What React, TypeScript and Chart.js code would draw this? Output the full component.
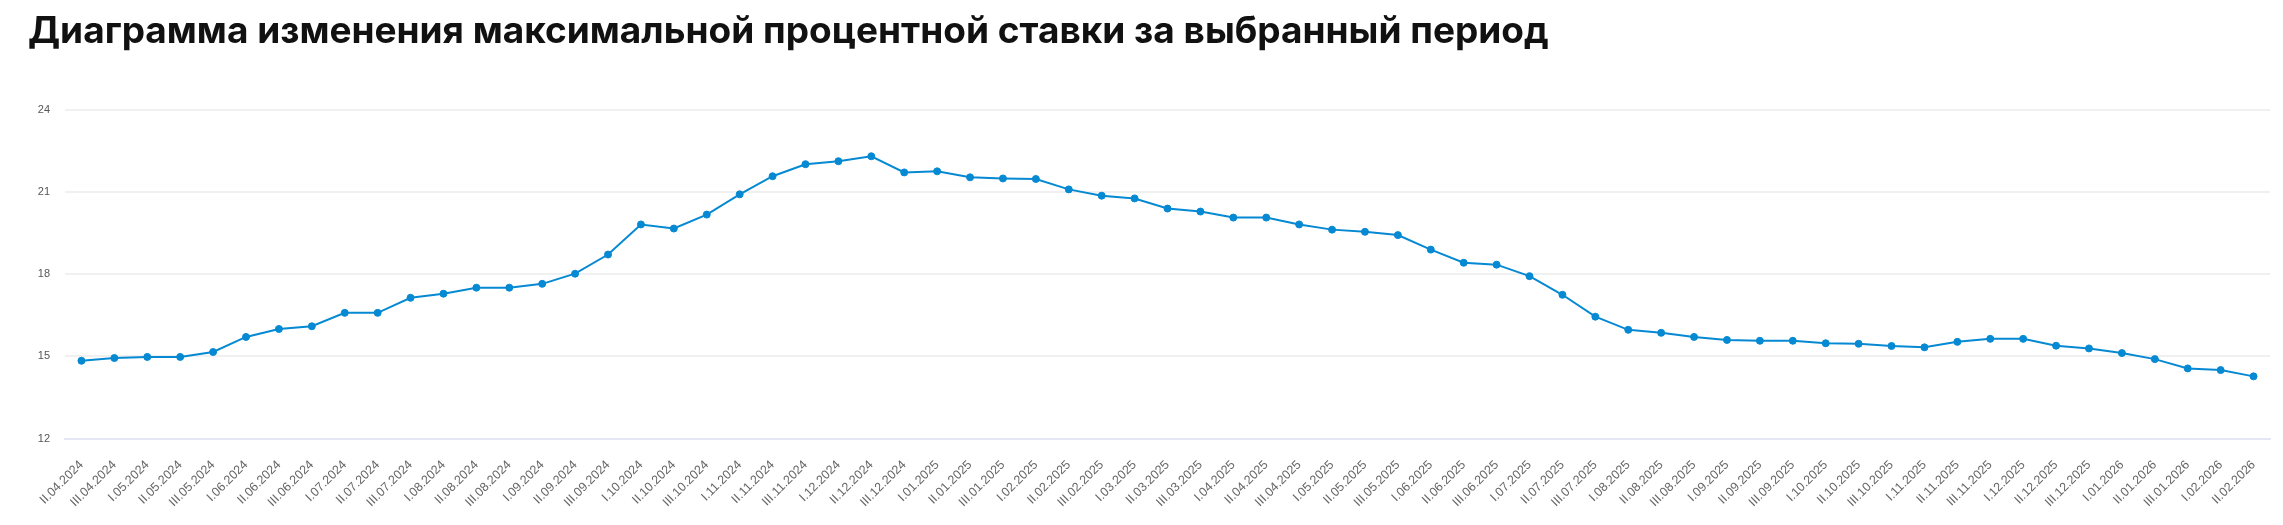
import React, { useEffect, useRef } from "react";
import { Chart, registerables } from "chart.js";

Chart.register(...registerables);

const TITLE = "Диаграмма изменения максимальной процентной ставки за выбранный период";

const periodLabels: string[] = [
  "II.04.2024", "III.04.2024",
  "I.05.2024", "II.05.2024", "III.05.2024",
  "I.06.2024", "II.06.2024", "III.06.2024",
  "I.07.2024", "II.07.2024", "III.07.2024",
  "I.08.2024", "II.08.2024", "III.08.2024",
  "I.09.2024", "II.09.2024", "III.09.2024",
  "I.10.2024", "II.10.2024", "III.10.2024",
  "I.11.2024", "II.11.2024", "III.11.2024",
  "I.12.2024", "II.12.2024", "III.12.2024",
  "I.01.2025", "II.01.2025", "III.01.2025",
  "I.02.2025", "II.02.2025", "III.02.2025",
  "I.03.2025", "II.03.2025", "III.03.2025",
  "I.04.2025", "II.04.2025", "III.04.2025",
  "I.05.2025", "II.05.2025", "III.05.2025",
  "I.06.2025", "II.06.2025", "III.06.2025",
  "I.07.2025", "II.07.2025", "III.07.2025",
  "I.08.2025", "II.08.2025", "III.08.2025",
  "I.09.2025", "II.09.2025", "III.09.2025",
  "I.10.2025", "II.10.2025", "III.10.2025",
  "I.11.2025", "II.11.2025", "III.11.2025",
  "I.12.2025", "II.12.2025", "III.12.2025",
  "I.01.2026", "II.01.2026", "III.01.2026",
  "I.02.2026", "II.02.2026",
];

const maxRate: number[] = [
  14.84, 14.94,
  14.98, 14.98, 15.16,
  15.71, 16.0, 16.1,
  16.59, 16.59, 17.14,
  17.29, 17.51, 17.51,
  17.65, 18.02, 18.72,
  19.82, 19.67, 20.18,
  20.92, 21.58, 22.02,
  22.13, 22.31, 21.72,
  21.76, 21.54, 21.5,
  21.48, 21.1, 20.87,
  20.77, 20.4, 20.29,
  20.07, 20.07, 19.82,
  19.63, 19.55, 19.43,
  18.9, 18.42, 18.35,
  17.93, 17.25, 16.45,
  15.97, 15.86, 15.71,
  15.6, 15.57, 15.57,
  15.48, 15.46, 15.38,
  15.33, 15.53, 15.64,
  15.64, 15.39, 15.29,
  15.12, 14.9, 14.56,
  14.5, 14.27,
];

const yMin = 12;
const yMax = 24;
const yStep = 3;

export default function App() {
  const canvasRef = useRef<HTMLCanvasElement | null>(null);

  useEffect(() => {
    if (!canvasRef.current) return;
    const chart = new Chart(canvasRef.current, {
      type: "line",
      data: {
        labels: periodLabels,
        datasets: [
          {
            label: "Максимальная ставка",
            data: maxRate,
            borderColor: "#0689d3",
            backgroundColor: "#0689d3",
            borderWidth: 2,
            pointRadius: 3.5,
            pointBorderWidth: 1,
            pointBackgroundColor: "#0689d3",
            pointBorderColor: "#0689d3",
            tension: 0,
            fill: false,
          },
        ],
      },
      options: {
        responsive: false,
        animation: false,
        devicePixelRatio: 1,
        layout: { padding: { top: 110, right: 13, left: 0, bottom: 0 } },
        plugins: {
          legend: { display: false },
          tooltip: { enabled: false },
          title: { display: false },
        },
        scales: {
          x: {
            offset: true,
            grid: { display: false },
            border: { display: true, color: "#e4e7f3", width: 2 },
            ticks: {
              autoSkip: false,
              minRotation: 45,
              maxRotation: 45,
              padding: 11,
              color: "#666666",
              font: { family: "'Liberation Sans', Arial, sans-serif", size: 12.5 },
            },
            afterFit: (scale: any) => {
              scale.height = 86.5;
            },
          },
          y: {
            min: yMin,
            max: yMax,
            grid: { color: "#f0f0f0", lineWidth: 2, drawTicks: false },
            border: { display: false },
            ticks: {
              stepSize: yStep,
              padding: 15,
              color: "#555555",
              font: { family: "'Liberation Sans', Arial, sans-serif", size: 11 },
            },
            afterFit: (scale: any) => {
              scale.width = 65;
            },
          },
        },
      },
    });
    return () => chart.destroy();
  }, []);

  return (
    <div
      style={{
        position: "fixed",
        left: 0,
        top: 0,
        width: 2283,
        height: 525,
        background: "#ffffff",
        overflow: "hidden",
      }}
    >
      <canvas
        ref={canvasRef}
        width={2283}
        height={525}
        style={{ position: "absolute", left: 0, top: 0, width: 2283, height: 525 }}
      />
      <div
        style={{
          position: "absolute",
          left: 28,
          top: 11,
          fontFamily: "Inter, 'Noto Sans', sans-serif",
          fontWeight: 700,
          fontSize: 37,
          lineHeight: "37px",
          color: "#111111",
          whiteSpace: "nowrap",
        }}
      >
        {TITLE}
      </div>
    </div>
  );
}
